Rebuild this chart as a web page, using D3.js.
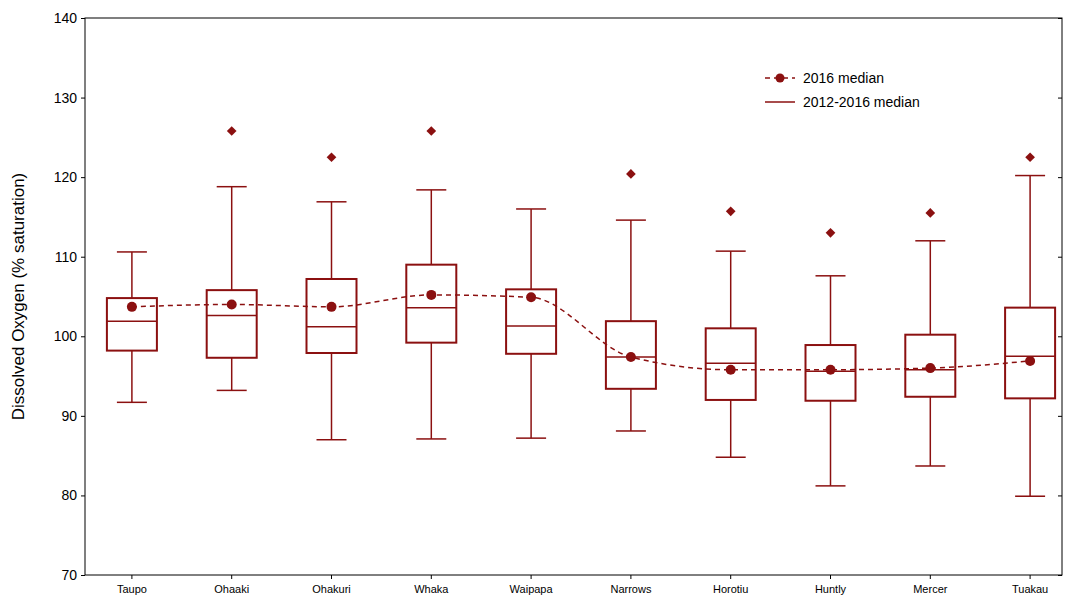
<!DOCTYPE html>
<html><head><meta charset="utf-8">
<script src="https://cdn.jsdelivr.net/npm/d3@7"></script>
<style>body{margin:0;background:#fff}svg{font-family:"Liberation Sans",Arial,sans-serif}</style>
</head><body>
<script>
// site names along the river
var sites = ["Taupo","Ohaaki","Ohakuri","Whaka","Waipapa","Narrows","Horotiu","Huntly","Mercer","Tuakau"];
// 2012-2016 box stats
var whiskerLow  = [91.7, 93.2, 87.0, 87.1, 87.2, 88.1, 84.8, 81.2, 83.7, 79.9];
var q1          = [98.2, 97.3, 97.9, 99.2, 97.8, 93.4, 92.0, 91.9, 92.4, 92.2];
var median      = [101.9,102.6,101.2,103.6,101.3,97.4, 96.6, 95.6, 95.8, 97.5];
var q3          = [104.8,105.8,107.2,109.0,105.9,101.9,101.0,98.9, 100.2,103.6];
var whiskerHigh = [110.6,118.8,116.9,118.4,116.0,114.6,110.7,107.6,112.0,120.2];
var outlier     = [null, 125.8,122.5,125.8,null, 120.4,115.7,113.0,115.5,122.5];
// 2016 median
var median2016  = [103.7,104.0,103.7,105.2,104.9,97.4, 95.8, 95.8, 96.0, 96.9];
var yTicks = [70,80,90,100,110,120,130,140];

var col = "#8b1010";
var W = 1073, H = 603, m = {l:85, r:11, t:18, b:28};
var svg = d3.select("body").append("svg").attr("width",W).attr("height",H);

var x = d3.scaleBand().domain(sites).range([82, 1080]);
var y = d3.scaleLinear().domain([70,140]).range([H-m.b, m.t]);

svg.append("rect").attr("x",m.l).attr("y",m.t).attr("width",W-m.r-m.l).attr("height",H-m.b-m.t)
  .attr("fill","none").attr("stroke","#000");

var ya = svg.append("g").attr("transform","translate("+m.l+",0)")
  .call(d3.axisLeft(y).tickValues(yTicks).tickSize(4).tickPadding(4));
ya.select(".domain").remove();
ya.selectAll("text").attr("font-size",14).attr("fill","#000");
svg.append("g").attr("transform","translate("+(W-m.r)+",0)")
  .call(d3.axisRight(y).tickValues(yTicks).tickSize(-4).tickFormat(""))
  .select(".domain").remove();

var xa = svg.append("g").attr("transform","translate(0,"+(H-m.b)+")")
  .call(d3.axisBottom(x).tickSize(4).tickPadding(6));
xa.select(".domain").remove();
xa.selectAll("text").attr("font-size",11).attr("fill","#000");

svg.append("text").attr("transform","translate(24,"+((m.t+H-m.b)/2)+") rotate(-90)")
  .attr("text-anchor","middle").attr("font-size",17).text("Dissolved Oxygen (% saturation)");

var bw = 50, cw = 30;
var g = svg.selectAll(".box").data(sites).enter().append("g")
  .attr("transform", function(d){ return "translate("+(x(d)+x.bandwidth()/2)+",0)"; })
  .attr("stroke",col).attr("fill","none");
g.append("line").attr("y1",function(d,i){return y(whiskerLow[i]);}).attr("y2",function(d,i){return y(q1[i]);}).attr("stroke-width",1.5);
g.append("line").attr("y1",function(d,i){return y(q3[i]);}).attr("y2",function(d,i){return y(whiskerHigh[i]);}).attr("stroke-width",1.5);
g.append("line").attr("x1",-cw/2).attr("x2",cw/2).attr("y1",function(d,i){return y(whiskerLow[i]);}).attr("y2",function(d,i){return y(whiskerLow[i]);}).attr("stroke-width",1.5);
g.append("line").attr("x1",-cw/2).attr("x2",cw/2).attr("y1",function(d,i){return y(whiskerHigh[i]);}).attr("y2",function(d,i){return y(whiskerHigh[i]);}).attr("stroke-width",1.5);
g.append("rect").attr("x",-bw/2).attr("width",bw)
  .attr("y",function(d,i){return y(q3[i]);}).attr("height",function(d,i){return y(q1[i])-y(q3[i]);})
  .attr("stroke-width",2);
g.append("line").attr("x1",-bw/2).attr("x2",bw/2).attr("y1",function(d,i){return y(median[i]);}).attr("y2",function(d,i){return y(median[i]);}).attr("stroke-width",1.5);
g.filter(function(d,i){return outlier[i]!=null;}).append("path")
  .attr("d",d3.symbol(d3.symbolDiamond2,60))
  .attr("transform",function(d){var i=sites.indexOf(d);return "translate(0,"+y(outlier[i])+")";})
  .attr("fill",col).attr("stroke","none");

var line = d3.line().x(function(d,i){return x(sites[i])+x.bandwidth()/2;}).y(function(d){return y(d);}).curve(d3.curveMonotoneX);
svg.append("path").datum(median2016).attr("d",line).attr("fill","none").attr("stroke",col)
  .attr("stroke-width",1.5).attr("stroke-dasharray","5,4");
svg.selectAll(".dot").data(median2016).enter().append("circle")
  .attr("cx",function(d,i){return x(sites[i])+x.bandwidth()/2;}).attr("cy",function(d){return y(d);})
  .attr("r",5).attr("fill",col);

// legend
var lg = svg.append("g").attr("transform","translate(765,78)");
lg.append("line").attr("x1",0).attr("x2",30).attr("stroke",col).attr("stroke-width",1.5).attr("stroke-dasharray","5,4");
lg.append("circle").attr("cx",15).attr("r",4.5).attr("fill",col);
lg.append("text").attr("x",38).attr("y",5).attr("font-size",14).text("2016 median");
lg.append("line").attr("x1",0).attr("x2",30).attr("y1",24).attr("y2",24).attr("stroke",col).attr("stroke-width",1.5);
lg.append("text").attr("x",38).attr("y",29).attr("font-size",14).text("2012-2016 median");
</script>
</body></html>
